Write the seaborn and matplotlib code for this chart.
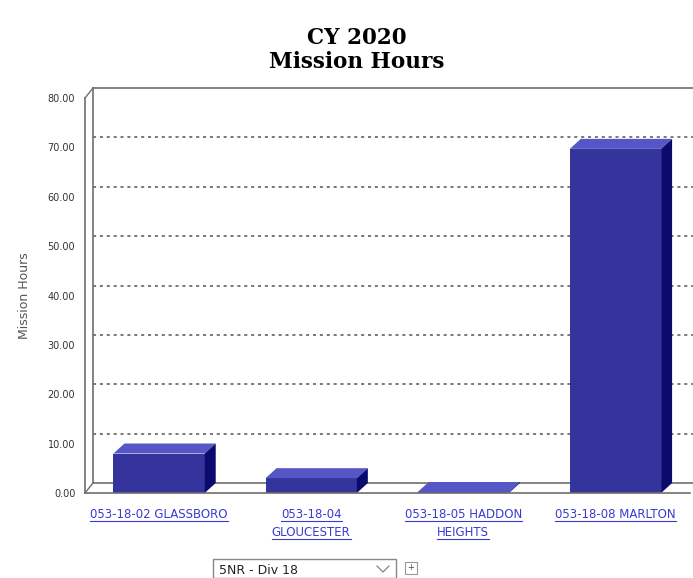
import numpy as np
import pandas as pd
import seaborn as sns
import matplotlib.pyplot as plt
import matplotlib.transforms as mtransforms
from matplotlib.patches import Polygon, Rectangle
from matplotlib.lines import Line2D

# -----------------------------------------------------
# DATA
# -----------------------------------------------------
stations = ["053-18-02 GLASSBORO", "053-18-04\nGLOUCESTER",
            "053-18-05 HADDON\nHEIGHTS", "053-18-08 MARLTON"]
hours = [8.0, 3.0, 0.2, 69.7]
y_ticks = [0, 10, 20, 30, 40, 50, 60, 70, 80]
dropdown_text = "5NR - Div 18"

front_col = "#34349C"
top_col = "#5656C6"
side_col = "#0B0B6E"
link_col = "#3A3ACF"
frame_col = "#6e6e6e"

W, H = 693, 578
fig = plt.figure(figsize=(W / 100, H / 100), dpi=100)
ax = fig.add_axes([85 / W, 85 / H, 605 / W, 395 / H])

sns.barplot(x=stations, y=hours, color=front_col, width=0.6, saturation=1,
            ax=ax, zorder=2)
ax.set_xlim(-0.487, 3.49)
ax.set_ylim(0, 80)
ax.set_xlabel("")
ax.set_xticks([])
ax.set_yticks(y_ticks)
ax.set_yticklabels([f"{v:.2f}" for v in y_ticks], fontsize=7, color="#333333")
ax.tick_params(axis="y", length=0, pad=7)
ax.set_ylabel("Mission Hours", fontsize=9, color="#555555", labelpad=12)
for s in ["top", "right"]:
    ax.spines[s].set_visible(False)
for s in ["left", "bottom"]:
    ax.spines[s].set_color(frame_col)
    ax.spines[s].set_linewidth(1.2)

# back wall (3D offset)
wall = mtransforms.ScaledTranslation(8 / 100, 10 / 100, fig.dpi_scale_trans)
back = ax.transAxes + wall
for xs, ys in [([0, 0], [0, 1]), ([0, 1], [1, 1]), ([0, 1], [0, 0])]:
    ax.plot(xs, ys, transform=back, color=frame_col, lw=1.2, clip_on=False, zorder=1)
ident = mtransforms.IdentityTransform()
for pt in [(0, 0), (0, 1)]:
    p = ax.transAxes.transform(pt)
    fig.add_artist(Line2D([p[0], p[0] + 8], [p[1], p[1] + 10], transform=ident,
                          color=frame_col, lw=1))

# gridlines on back wall
grid_tr = mtransforms.blended_transform_factory(ax.transAxes, ax.transData) + wall
for v in y_ticks[1:-1]:
    ax.plot([0, 1], [v, v], transform=grid_tr, color="#555555", lw=1.1,
            ls=(0, (2, 2.5)), clip_on=False, zorder=0.5)

# 3D bar tops and sides
o = ax.transData.transform((0, 0))
sx = ax.transData.transform((1, 0))[0] - o[0]
sy = ax.transData.transform((0, 1))[1] - o[1]
ddx, ddy = 11 / sx, 10 / sy
for p in ax.patches:
    x0, w, h = p.get_x(), p.get_width(), p.get_height()
    ax.add_patch(Polygon([(x0, h), (x0 + w, h), (x0 + w + ddx, h + ddy), (x0 + ddx, h + ddy)],
                         closed=True, facecolor=top_col, edgecolor="none", zorder=2))
    ax.add_patch(Polygon([(x0 + w, 0), (x0 + w + ddx, ddy), (x0 + w + ddx, h + ddy), (x0 + w, h)],
                         closed=True, facecolor=side_col, edgecolor="none", zorder=2))

# underlined link-style category labels
lab_tr = mtransforms.blended_transform_factory(ax.transData, ax.transAxes)
texts = []
for i, name in enumerate(stations):
    for j, line in enumerate(name.split("\n")):
        tr = mtransforms.offset_copy(lab_tr, fig=fig, x=0, y=-(22 + 18 * j), units="dots")
        texts.append(ax.text(i, 0, line, transform=tr, ha="center", va="center",
                             fontsize=8.5, color=link_col, clip_on=False))

# title
fig.text(357 / W, 1 - 50 / H, "CY 2020\nMission Hours", ha="center", va="center",
         fontsize=15.5, fontweight="bold", family="DejaVu Serif", linespacing=1.1)

# dropdown box at the bottom
fig.add_artist(Rectangle((213 / W, 0), (396 - 213) / W, 19 / H, transform=fig.transFigure,
                         facecolor="white", edgecolor="#888888", lw=1))
fig.text(219 / W, 1 - 570 / H, dropdown_text, ha="left", va="center", fontsize=9,
         color="#222222")
fig.add_artist(Line2D([377, 383, 389], [H - 566, H - 572, H - 566], transform=ident,
                      color="#777777", lw=0.8))
fig.add_artist(Rectangle((405 / W, 1 - 574 / H), 12 / W, 12 / H, transform=fig.transFigure,
                         facecolor="white", edgecolor="#999999", lw=0.8))
fig.text(411 / W, 1 - 568 / H, "+", ha="center", va="center", fontsize=6, color="#444444")

fig.canvas.draw()
for t in texts:
    bb = t.get_window_extent()
    fig.add_artist(Line2D([bb.x0, bb.x1], [bb.y0 + 1, bb.y0 + 1], transform=ident,
                          color=link_col, lw=0.8))

fig.savefig("out.png", dpi=100)
